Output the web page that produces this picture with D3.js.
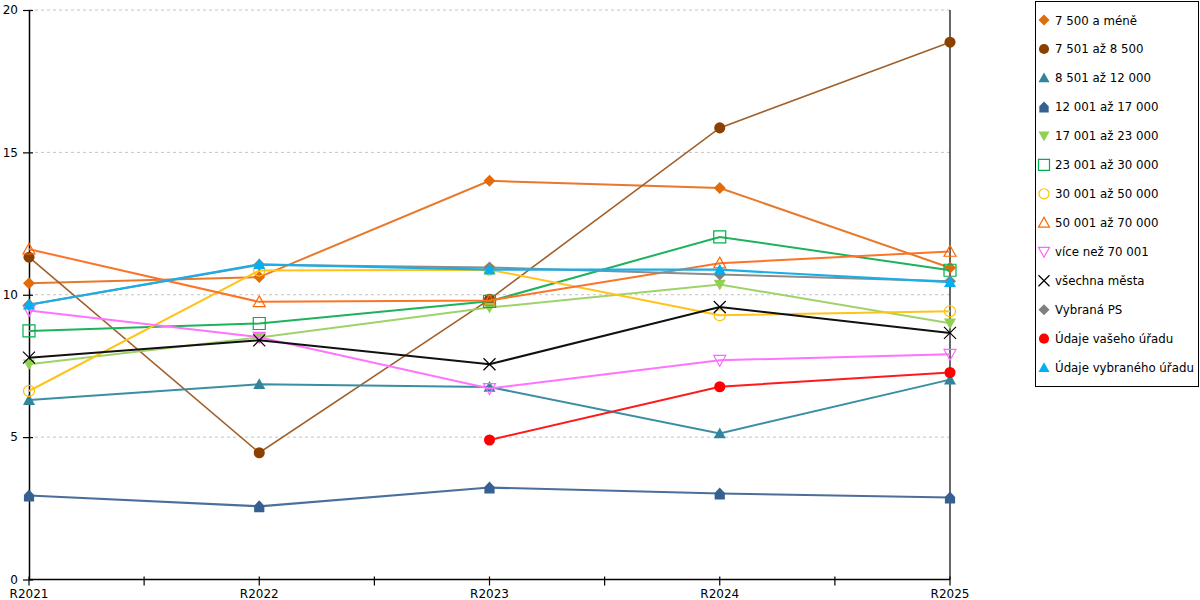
<!DOCTYPE html>
<html>
<head>
<meta charset="utf-8">
<script src="https://cdn.jsdelivr.net/npm/d3@7"></script>
<style>
  body { margin: 0; background: #fff; }
  text { font-family: "DejaVu Sans", Verdana, sans-serif; font-size: 12px; fill: #000; }
</style>
</head>
<body>
<script>
// categories on the x axis
var years = ["R2021", "R2022", "R2023", "R2024", "R2025"];
var yTicks = [0, 5, 10, 15, 20];

// series names, in legend (and drawing) order
var names = ["7 500 a méně", "7 501 až 8 500", "8 501 až 12 000", "12 001 až 17 000",
             "17 001 až 23 000", "23 001 až 30 000", "30 001 až 50 000", "50 001 až 70 000",
             "více než 70 001", "všechna města", "Vybraná PS", "Údaje vašeho úřadu",
             "Údaje vybraného úřadu"];

// values per series (null = no value)
var v7500   = [10.4, 10.62, 14.0, 13.75, 10.95];
var v8500   = [11.32, 4.45, 9.84, 15.86, 18.87];
var v12000  = [6.3, 6.86, 6.76, 5.13, 7.02];
var v17000  = [2.95, 2.57, 3.23, 3.02, 2.88];
var v23000  = [7.56, 8.5, 9.55, 10.36, 9.0];
var v30000  = [8.73, 8.99, 9.77, 12.03, 10.86];
var v50000  = [6.62, 10.85, 10.88, 9.28, 9.42];
var v70000  = [11.6, 9.75, 9.8, 11.11, 11.52];
var vOver   = [9.45, 8.51, 6.71, 7.7, 7.91];
var vAll    = [7.79, 8.4, 7.56, 9.57, 8.66];
var vPS     = [9.65, 11.05, 10.96, 10.71, 10.47];
var vOffice = [null, null, 4.9, 6.77, 7.27];
var vSel    = [9.65, 11.07, 10.88, 10.88, 10.44];

var values = [v7500, v8500, v12000, v17000, v23000, v30000, v50000, v70000,
              vOver, vAll, vPS, vOffice, vSel];

// styles per series
var lineColors = ["#e8782a", "#a0602c", "#3a8ea3", "#4a6f9c", "#9fd26a", "#1db25c",
                  "#ffc31a", "#fb7428", "#ff73ff", "#111111", "#8c8c8c", "#ff1a1a", "#1aaee8"];
var markColors = ["#e26b0a", "#8b4000", "#31849b", "#366092", "#92d050", "#00b050",
                  "#ffc000", "#ff6600", "#ff66ff", "#000000", "#808080", "#ff0000", "#00b0f0"];
var shapes = ["diamond", "circle", "triangle", "house", "triangleDown", "squareOpen",
              "circleOpen", "triangleOpen", "triangleDownOpen", "cross", "diamond", "circle", "triangle"];
var widths = [2, 1.6, 2, 2.2, 2, 2, 2, 2, 2, 2, 2, 2, 2.2];

var width = 1200, height = 600;
var pad = { left: 29, right: 950, top: 10, bottom: 579.5 };

var svg = d3.select("body").append("svg")
            .attr("width", width)
            .attr("height", height);

var xScale = d3.scalePoint().domain(years).range([pad.left, pad.right]);
var yScale = d3.scaleLinear().domain([0, 20]).range([pad.bottom, pad.top]);

// dotted gridlines
svg.selectAll(".grid")
   .data(yTicks.filter(function(d){ return d > 0; }))
   .enter().append("line")
   .attr("x1", pad.left).attr("x2", pad.right)
   .attr("y1", function(d){ return yScale(d); })
   .attr("y2", function(d){ return yScale(d); })
   .attr("stroke", "#c4c4c4")
   .attr("stroke-width", 1)
   .attr("stroke-dasharray", "3,3");

// right border line
svg.append("line")
   .attr("x1", pad.right).attr("x2", pad.right)
   .attr("y1", pad.top).attr("y2", pad.bottom)
   .attr("stroke", "#000").attr("stroke-width", 1.2);

// y axis
var yAxis = d3.axisLeft(yScale).tickValues(yTicks).tickSizeInner(6).tickSizeOuter(0).tickPadding(5);
var gy = svg.append("g")
   .attr("transform", "translate(" + pad.left + ",0)")
   .call(yAxis);
gy.select(".domain").attr("stroke", "#000").attr("stroke-width", 1.5);
gy.selectAll(".tick line").attr("x2", 4).attr("x1", -6).attr("stroke-width", 1.2);
gy.selectAll(".tick text").attr("x", -11).style("font-size", "12px")
  .style("font-family", "DejaVu Sans, Verdana, sans-serif");

// x axis, with extra ticks between the categories
var step = xScale.step();
var xTicks = [];
years.forEach(function(y, i){
    xTicks.push(xScale(y));
    if (i < years.length - 1) xTicks.push(xScale(y) + step / 2);
});
svg.append("line")
   .attr("x1", pad.left).attr("x2", pad.right)
   .attr("y1", pad.bottom).attr("y2", pad.bottom)
   .attr("stroke", "#000").attr("stroke-width", 1.5);
svg.selectAll(".xtick")
   .data(xTicks).enter().append("line")
   .attr("x1", function(d){ return d; }).attr("x2", function(d){ return d; })
   .attr("y1", pad.bottom - 3).attr("y2", pad.bottom + 6)
   .attr("stroke", "#000").attr("stroke-width", 1.2);
svg.selectAll(".xlabel")
   .data(years).enter().append("text")
   .attr("x", function(d){ return xScale(d); })
   .attr("y", 598)
   .attr("text-anchor", "middle")
   .text(function(d){ return d; });

// marker path generator
const markerPath = function(shape, s){
    var h = s / 2;
    switch (shape) {
        case "diamond": return "M0," + (-h) + "L" + h + ",0L0," + h + "L" + (-h) + ",0Z";
        case "circle": case "circleOpen":
            return d3.symbol().type(d3.symbolCircle).size(Math.PI * h * h * 0.85)();
        case "triangle": case "triangleOpen":
            return "M0," + (-h) + "L" + h + "," + h * 0.8 + "L" + (-h) + "," + h * 0.8 + "Z";
        case "triangleDown": case "triangleDownOpen":
            return "M0," + h + "L" + h + "," + (-h * 0.8) + "L" + (-h) + "," + (-h * 0.8) + "Z";
        case "house":
            return "M0," + (-h) + "L" + h * 0.85 + "," + (-h * 0.1) + "L" + h * 0.85 + "," + h +
                   "L" + (-h * 0.85) + "," + h + "L" + (-h * 0.85) + "," + (-h * 0.1) + "Z";
        case "squareOpen":
            return "M" + (-h) + "," + (-h) + "H" + h + "V" + h + "H" + (-h) + "Z";
        case "cross":
            return "M" + (-h) + "," + (-h) + "L" + h + "," + h + "M" + h + "," + (-h) + "L" + (-h) + "," + h;
    }
};
const isOpen = function(shape){
    return shape.indexOf("Open") >= 0 || shape === "cross";
};
const drawMarker = function(g, i, size){
    var shape = shapes[i];
    g.append("path")
     .attr("d", markerPath(shape, size))
     .attr("fill", isOpen(shape) ? "none" : markColors[i])
     .attr("stroke", isOpen(shape) ? markColors[i] : "none")
     .attr("stroke-width", 1.2);
};

var line = d3.line()
             .defined(function(d){ return d.v !== null; })
             .x(function(d){ return xScale(d.year); })
             .y(function(d){ return yScale(d.v); });

// series lines and markers
values.forEach(function(vals, i){
    var pts = years.map(function(y, j){ return { year: y, v: vals[j] }; });
    var g = svg.append("g");
    g.append("path")
     .datum(pts)
     .attr("d", line)
     .attr("fill", "none")
     .attr("stroke", lineColors[i])
     .attr("stroke-width", widths[i]);
    pts.filter(function(d){ return d.v !== null; }).forEach(function(d){
        var m = g.append("g")
                 .attr("transform", "translate(" + xScale(d.year) + "," + yScale(d.v) + ")");
        drawMarker(m, i, 12);
    });
});

// legend
svg.append("rect")
   .attr("x", 1035.5).attr("y", 1.5)
   .attr("width", 163).attr("height", 385)
   .attr("fill", "#fff").attr("stroke", "#000").attr("stroke-width", 1);
names.forEach(function(n, i){
    var yy = 20 + i * 28.97;
    var m = svg.append("g").attr("transform", "translate(1044," + yy + ")");
    drawMarker(m, i, 11);
    svg.append("text")
       .attr("x", 1055).attr("y", yy + 4.5)
       .style("font-size", "11.8px")
       .text(n);
});
</script>
</body>
</html>
